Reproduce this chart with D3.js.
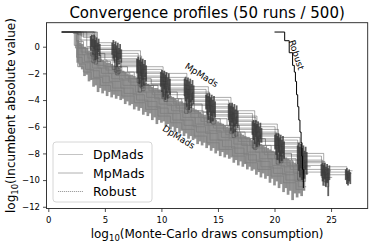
<!DOCTYPE html>
<html>
<head>
<meta charset="utf-8">
<script src="https://cdn.jsdelivr.net/npm/d3@7/dist/d3.min.js"></script>
<style>
  body { margin: 0; background: #fff; }
  text { font-family: "DejaVu Sans", sans-serif; }
</style>
</head>
<body>
<div id="chart"></div>
<script>
// ticks
var xTicks = [0, 5, 10, 15, 20, 25]
var yTicks = [0, -2, -4, -6, -8, -10, -12]

// DpMads runs, [log10 draws, log10 incumbent] step points
var dpRuns = [
  [[1.2,1.1],[2.8,0.5],[3.4,0.0],[4.1,-0.5],[5.0,-1.0],[6.1,-1.5],[7.0,-1.9],[8.2,-2.4],[9.1,-2.8],[10.3,-3.4],[11.4,-3.9],[12.4,-4.3],[13.6,-4.9],[14.7,-5.4],[15.8,-5.9],[16.9,-6.4],[18.1,-6.9],[19.2,-7.4],[20.4,-8.0],[21.5,-8.5],[22.3,-8.8],[22.6,-8.8]],
  [[1.2,1.1],[2.5,0.4],[3.1,-0.1],[3.8,-0.6],[4.6,-1.1],[5.5,-1.5],[6.5,-1.9],[7.6,-2.4],[8.6,-2.9],[9.7,-3.4],[10.8,-3.9],[11.8,-4.3],[12.9,-4.9],[14.1,-5.4],[15.2,-5.9],[16.3,-6.4],[17.4,-6.9],[18.6,-7.4],[19.7,-7.9],[20.8,-8.4],[21.9,-8.9],[22.6,-8.9]],
  [[1.2,1.1],[2.7,-0.1],[3.3,-0.5],[4.0,-1.1],[4.9,-1.5],[5.8,-1.9],[6.8,-2.4],[7.9,-2.9],[8.9,-3.3],[10.0,-3.8],[11.1,-4.3],[12.2,-4.8],[13.3,-5.3],[14.4,-5.8],[15.5,-6.3],[16.6,-6.8],[17.8,-7.4],[18.9,-7.9],[20.0,-8.4],[21.1,-8.9],[22.1,-9.3],[22.7,-9.3]],
  [[1.2,1.1],[2.4,-0.1],[3.0,-0.6],[3.6,-1.1],[4.4,-1.6],[5.3,-2.0],[6.3,-2.5],[7.3,-2.9],[8.4,-3.4],[9.4,-3.9],[10.5,-4.4],[11.6,-4.9],[12.6,-5.3],[13.8,-5.9],[14.9,-6.4],[16.0,-6.9],[17.1,-7.4],[18.3,-7.9],[19.4,-8.4],[20.6,-9.0],[21.7,-9.5],[22.5,-9.5]],
  [[1.2,1.1],[2.6,-0.6],[3.2,-1.1],[3.9,-1.6],[4.7,-2.0],[5.6,-2.4],[6.6,-2.9],[7.7,-3.4],[8.7,-3.8],[9.8,-4.3],[10.9,-4.8],[11.9,-5.3],[13.0,-5.8],[14.2,-6.3],[15.3,-6.8],[16.4,-7.3],[17.6,-7.9],[18.7,-8.4],[19.8,-8.9],[20.9,-9.4],[22.0,-9.9],[22.7,-9.9]],
  [[1.2,1.1],[2.5,-0.8],[3.0,-1.2],[3.7,-1.8],[4.5,-2.2],[5.4,-2.6],[6.4,-3.1],[7.5,-3.6],[8.5,-4.1],[9.6,-4.6],[10.6,-5.0],[11.7,-5.5],[12.8,-6.0],[13.9,-6.5],[15.0,-7.0],[16.2,-7.6],[17.3,-8.1],[18.4,-8.6],[19.6,-9.1],[20.7,-9.6],[21.8,-10.1],[22.6,-10.1]],
  [[1.2,1.1],[2.7,-1.3],[3.3,-1.7],[4.0,-2.3],[4.8,-2.7],[5.7,-3.1],[6.7,-3.5],[7.8,-4.0],[8.8,-4.5],[9.9,-5.0],[11.0,-5.5],[12.0,-5.9],[13.1,-6.4],[14.3,-7.0],[15.4,-7.5],[16.5,-8.0],[17.7,-8.5],[18.8,-9.0],[19.9,-9.5],[21.0,-10.0],[22.1,-10.5],[22.8,-10.5]],
  [[1.2,1.1],[2.9,-0.1],[3.5,-0.55],[4.2,-1.0],[5.2,-1.5],[6.2,-1.95],[7.2,-2.4],[8.3,-2.9],[9.3,-3.4],[10.4,-3.9],[11.5,-4.4],[12.5,-4.8],[13.7,-5.4],[14.8,-5.9],[15.9,-6.4],[17.0,-6.9],[18.2,-7.4],[19.3,-7.9],[20.5,-8.5],[21.6,-9.0],[22.4,-9.0]],
  [[1.2,1.1],[2.6,-1.5],[3.1,-1.9],[3.8,-2.4],[4.6,-2.9],[5.5,-3.3],[6.5,-3.7],[7.6,-4.2],[8.6,-4.7],[9.7,-5.2],[10.8,-5.7],[11.8,-6.2],[12.9,-6.7],[14.0,-7.2],[15.1,-7.7],[16.3,-8.2],[17.4,-8.7],[18.5,-9.2],[19.7,-9.7],[20.8,-10.2],[21.9,-10.7],[22.7,-10.7]],
  [[1.2,1.1],[2.3,0.1],[2.9,-0.4],[3.5,-0.85],[4.3,-1.4],[5.1,-1.75],[6.0,-2.15],[7.1,-2.65],[8.1,-3.1],[9.2,-3.6],[10.2,-4.1],[11.3,-4.6],[12.3,-5.0],[13.5,-5.6],[14.6,-6.1],[15.7,-6.6],[16.8,-7.1],[18.0,-7.6],[19.1,-8.1],[20.3,-8.7],[21.4,-9.2],[22.2,-9.2]]
]

// DpMads band of rapid excursions [x, top, bottom]
var dpSpikes = [
  [2.6,0.5,-1.2],[2.8,0.3,-1.5],[3.0,0.2,-1.7],[3.2,0.0,-2.2],[3.4,-0.1,-2.1],[3.6,-0.3,-2.6],[3.8,-0.4,-2.5],
  [4.0,-0.6,-3.0],[4.2,-0.7,-2.9],[4.4,-0.8,-3.4],[4.6,-0.9,-3.1],[4.8,-1.0,-3.5],[5.0,-1.1,-3.3],[5.2,-1.2,-3.7],
  [5.4,-1.2,-3.4],[5.6,-1.3,-3.8],[5.8,-1.4,-3.6],[6.0,-1.5,-3.9],[6.2,-1.6,-3.7],[6.4,-1.7,-4.0],[6.6,-1.8,-3.9],
  [6.8,-1.9,-4.3],[7.0,-2.0,-4.1],[7.2,-2.1,-4.4],[7.4,-2.1,-4.3],[7.6,-2.2,-4.7],[7.8,-2.3,-4.5],[8.0,-2.4,-4.8],
  [8.2,-2.5,-4.6],[8.4,-2.6,-5.1],[8.6,-2.7,-4.9],[8.8,-2.8,-5.2],[9.0,-2.9,-5.0],[9.2,-3.0,-5.5],[9.4,-3.1,-5.3],
  [9.6,-3.1,-5.8],[9.8,-3.2,-5.5],[10.0,-3.3,-5.7],[10.2,-3.4,-5.6],[10.4,-3.5,-6.0],[10.6,-3.6,-5.8],[10.8,-3.7,-6.2],
  [11.0,-3.8,-6.0],[11.2,-3.9,-6.4],[11.4,-4.0,-6.1],[11.6,-4.1,-6.5],[11.8,-4.1,-6.3],[12.0,-4.2,-6.7],[12.2,-4.3,-6.5],
  [12.4,-4.4,-6.9],[12.6,-4.5,-6.7],[12.8,-4.6,-7.0],[13.0,-4.7,-6.9],[13.2,-4.8,-7.3],[13.4,-4.9,-7.1],[13.6,-5.0,-7.4],
  [13.8,-5.1,-7.2],[14.0,-5.1,-7.6],[14.2,-5.2,-7.4],[14.4,-5.3,-7.8],[14.6,-5.4,-7.6],[14.8,-5.5,-8.0],[15.0,-5.6,-7.8],
  [15.2,-5.7,-8.2],[15.4,-5.8,-7.9],[15.6,-5.9,-8.3],[15.8,-6.0,-8.1],[16.0,-6.1,-8.4],[16.2,-6.1,-8.3],[16.4,-6.2,-8.7],
  [16.6,-6.3,-8.5],[16.8,-6.4,-8.9],[17.0,-6.5,-8.6],[17.2,-6.6,-9.0],[17.4,-6.7,-8.8],[17.6,-6.8,-9.2],[17.8,-6.9,-9.0],
  [18.0,-7.0,-9.3],[18.2,-7.1,-9.2],[18.4,-7.1,-9.6],[18.6,-7.2,-9.4],[18.8,-7.3,-9.8],[19.0,-7.4,-9.5],[19.2,-7.5,-9.9],
  [19.4,-7.6,-9.7],[19.6,-7.7,-10.2],[19.8,-7.8,-9.9],[20.0,-7.9,-10.4],[20.2,-8.0,-10.1],[20.4,-8.1,-10.6],[20.6,-8.1,-10.3],
  [20.8,-8.2,-10.9],[21.0,-8.3,-10.6],[21.2,-8.4,-11.1],[21.4,-8.5,-10.8],[21.6,-8.6,-11.5],[21.8,-8.7,-11.0],[22.0,-8.8,-11.3],
  [22.2,-8.9,-11.0],[22.4,-9.0,-11.2],[22.6,-9.2,-10.8]
]

// MpMads runs
var mpRuns = [
  [[1.2,1.1],[4.15,0.0],[4.45,0.3],[5.95,-0.8],[6.25,-0.3],[8.15,-2.0],[8.45,-1.5],[10.15,-2.6],[10.45,-2.0],[12.25,-3.6],[12.55,-3.0],[14.15,-4.4],[14.45,-3.8],[16.15,-5.4],[16.45,-4.8],[18.25,-6.4],[18.55,-5.8],[20.25,-7.4],[20.55,-6.8],[22.25,-8.6],[22.55,-8.0],[24.35,-9.6],[24.65,-9.0],[26.4,-9.8],[26.6,-9.3],[26.9,-9.3]],
  [[1.2,1.1],[2.6,0.9],[3.85,-0.3],[4.15,0.1],[5.75,-1.0],[6.05,-0.5],[7.95,-2.3],[8.25,-1.7],[10.05,-2.8],[10.35,-2.3],[12.05,-3.8],[12.35,-3.2],[13.95,-4.6],[14.25,-4.0],[15.95,-5.6],[16.25,-5.0],[18.05,-6.6],[18.35,-6.0],[20.05,-7.6],[20.35,-7.0],[22.05,-8.8],[22.35,-8.2],[24.15,-9.8],[24.45,-9.2],[26.3,-9.9],[26.5,-9.5],[26.8,-9.5]],
  [[1.2,1.1],[4.05,-0.6],[4.35,-0.1],[6.05,-1.3],[6.35,-0.7],[8.25,-2.5],[8.55,-2.0],[10.25,-3.0],[10.55,-2.5],[12.35,-4.1],[12.65,-3.5],[14.25,-4.9],[14.55,-4.3],[16.25,-5.9],[16.55,-5.3],[18.35,-6.8],[18.65,-6.2],[20.35,-7.9],[20.65,-7.3],[22.35,-9.1],[22.65,-8.5],[24.25,-9.9],[24.55,-9.3],[25.0,-9.3]],
  [[1.2,1.1],[3.1,0.7],[3.75,-0.7],[4.05,-0.2],[5.85,-1.5],[6.15,-0.9],[7.85,-2.7],[8.15,-2.2],[9.95,-3.3],[10.25,-2.8],[12.15,-4.3],[12.45,-3.7],[14.05,-5.1],[14.35,-4.5],[16.05,-6.1],[16.35,-5.5],[18.15,-7.0],[18.45,-6.4],[20.15,-8.1],[20.45,-7.5],[22.15,-9.3],[22.45,-8.7],[24.35,-10.1],[24.65,-9.5],[24.9,-9.5]],
  [[1.2,1.1],[4.25,-0.9],[4.55,-0.4],[6.15,-1.6],[6.45,-1.0],[8.35,-2.8],[8.65,-2.3],[10.35,-3.4],[10.65,-2.9],[12.45,-4.4],[12.75,-3.8],[14.35,-5.2],[14.65,-4.6],[16.35,-6.2],[16.65,-5.6],[18.45,-7.2],[18.75,-6.6],[20.45,-8.2],[20.75,-7.6],[22.45,-9.5],[22.75,-8.9],[24.45,-10.2],[24.75,-9.6],[26.5,-10.2],[26.6,-9.6],[26.7,-9.6]],
  [[1.2,1.1],[2.2,1.0],[3.95,-1.0],[4.25,-0.5],[5.65,-1.7],[5.95,-1.1],[8.05,-3.0],[8.35,-2.5],[10.15,-3.6],[10.45,-3.1],[12.25,-4.6],[12.55,-4.0],[14.15,-5.4],[14.45,-4.8],[16.15,-6.4],[16.45,-5.8],[18.25,-7.3],[18.55,-6.7],[20.25,-8.4],[20.55,-7.8],[22.25,-9.6],[22.55,-9.0],[23.2,-9.0]],
  [[1.2,1.1],[4.35,-1.1],[4.65,-0.6],[5.85,-1.9],[6.15,-1.3],[8.15,-3.1],[8.45,-2.6],[10.45,-3.8],[10.75,-3.3],[12.15,-4.7],[12.45,-4.1],[14.35,-5.5],[14.65,-4.9],[16.05,-6.5],[16.35,-5.9],[18.35,-7.5],[18.65,-6.9],[20.35,-8.5],[20.65,-7.9],[22.35,-9.8],[22.65,-9.2],[24.25,-10.4],[24.55,-9.8],[25.1,-9.8]],
  [[1.2,1.1],[3.4,0.5],[3.85,-1.2],[4.15,-0.7],[6.05,-2.0],[6.35,-1.4],[8.25,-3.3],[8.55,-2.8],[10.05,-3.9],[10.35,-3.4],[12.35,-4.9],[12.65,-4.3],[14.05,-5.7],[14.35,-5.1],[16.45,-6.7],[16.75,-6.1],[18.05,-7.6],[18.35,-7.0],[20.45,-8.7],[20.75,-8.1],[22.05,-10.0],[22.35,-9.4],[24.5,-10.5],[24.8,-9.9],[24.8,-9.9]],
  [[1.2,1.1],[4.05,-1.3],[4.35,-0.8],[5.95,-2.1],[6.25,-1.5],[7.95,-3.4],[8.25,-2.9],[10.25,-4.1],[10.55,-3.6],[12.05,-5.0],[12.35,-4.4],[14.45,-5.8],[14.75,-5.2],[16.25,-6.8],[16.55,-6.2],[18.15,-7.7],[18.45,-7.1],[20.15,-8.8],[20.45,-8.2],[22.45,-10.1],[22.75,-9.5],[23.0,-9.5]],
  [[1.2,1.1],[2.9,0.8],[4.15,-0.7],[4.45,-0.2],[6.05,-1.8],[6.35,-1.2],[8.35,-2.4],[8.65,-1.9],[10.35,-3.7],[10.65,-3.2],[12.45,-4.0],[12.75,-3.4],[14.25,-5.5],[14.55,-4.9],[16.35,-5.8],[16.65,-5.2],[18.45,-7.1],[18.75,-6.5],[20.35,-7.8],[20.65,-7.2],[22.45,-9.2],[22.75,-8.6],[24.45,-10.0],[24.75,-9.4],[26.45,-10.0],[26.6,-9.8],[26.6,-9.8]]
]

// MpMads oscillations inside each cluster [x, top, bottom]
var mpSpikes = [
  [3.75,0.8,-0.3],[3.85,0.9,0.0],[3.95,0.6,-0.6],[4.05,0.9,-0.2],[4.15,0.5,-1.0],[4.25,0.7,-0.5],[4.35,0.3,-0.9],[4.45,0.6,-0.4],[4.55,0.2,-0.7],
  [5.65,0.3,-0.6],[5.75,0.5,-0.9],[5.85,0.2,-1.2],[5.95,0.4,-0.8],[6.05,0.1,-1.5],[6.15,0.3,-1.0],[6.25,-0.1,-1.3],[6.35,0.2,-0.9],[6.45,-0.2,-1.2],
  [7.85,-0.9,-2.0],[7.95,-0.75,-2.4],[8.05,-1.0,-2.8],[8.15,-0.8,-2.2],[8.25,-1.1,-3.0],[8.35,-0.9,-2.5],[8.45,-1.3,-2.9],[8.55,-1.0,-2.3],[8.65,-1.4,-2.6],
  [9.95,-1.9,-3.0],[10.05,-1.75,-3.4],[10.15,-2.0,-3.8],[10.25,-1.8,-3.2],[10.35,-2.1,-4.0],[10.45,-1.9,-3.5],[10.55,-2.3,-3.9],[10.65,-2.0,-3.3],[10.75,-2.4,-3.6],
  [12.05,-2.4,-3.7],[12.15,-2.25,-4.1],[12.25,-2.5,-4.5],[12.35,-2.3,-3.9],[12.45,-2.6,-4.75],[12.55,-2.4,-4.2],[12.65,-2.8,-4.6],[12.75,-2.5,-4.0],[12.85,-2.9,-4.3],
  [13.95,-3.6,-4.7],[14.05,-3.5,-5.1],[14.15,-3.7,-5.5],[14.25,-3.5,-4.9],[14.35,-3.8,-5.7],[14.45,-3.6,-5.2],[14.55,-4.0,-5.6],[14.65,-3.7,-5.0],[14.75,-4.1,-5.3],
  [15.95,-4.3,-5.5],[16.05,-4.2,-5.9],[16.15,-4.4,-6.3],[16.25,-4.2,-5.7],[16.35,-4.5,-6.5],[16.45,-4.3,-6.0],[16.55,-4.7,-6.4],[16.65,-4.4,-5.8],[16.75,-4.8,-6.1],
  [18.05,-5.6,-6.6],[18.15,-5.5,-7.0],[18.25,-5.7,-7.3],[18.35,-5.5,-6.8],[18.45,-5.8,-7.5],[18.55,-5.6,-7.1],[18.65,-6.0,-7.4],[18.75,-5.7,-6.9],[18.85,-6.1,-7.2],
  [20.05,-6.6,-7.7],[20.15,-6.5,-8.1],[20.25,-6.7,-8.5],[20.35,-6.5,-7.9],[20.45,-6.8,-8.7],[20.55,-6.6,-8.2],[20.65,-7.0,-8.6],[20.75,-6.7,-8.0],[20.85,-7.1,-8.4],
  [22.05,-7.4,-8.8],[22.15,-7.2,-9.3],[22.25,-7.5,-9.8],[22.35,-7.3,-9.1],[22.45,-7.6,-10.0],[22.55,-7.4,-9.5],[22.65,-7.8,-9.9],[22.75,-7.5,-9.2],[22.85,-7.9,-9.6],
  [24.15,-8.8,-9.7],[24.25,-8.7,-10.1],[24.35,-8.9,-10.4],[24.45,-8.7,-9.9],[24.55,-9.0,-10.5],[24.65,-8.8,-10.2],[24.75,-9.1,-11.2],[24.85,-8.9,-10.0],
  [26.3,-9.2,-10.0],[26.4,-9.1,-10.3],[26.5,-9.3,-10.4],[26.6,-9.2,-10.1],[26.7,-9.4,-10.3]
]

// Robust single profile
var robust = [[20.0,1.1],[20.9,0.45],[21.3,-0.45],[21.6,-1.4],[21.75,-1.9],[21.85,-2.6],[21.95,-3.6],[22.05,-4.5],[22.15,-5.5],[22.25,-6.4],[22.35,-7.2],[22.42,-8.2],[22.48,-9.2],[22.55,-10.6]]

var legendNames = ["DpMads", "MpMads", "Robust"]

const width = 374
const height = 246
const margin = {top: 22.7, right: 6.3, bottom: 37.5, left: 46.5}

const svg = d3.select("#chart").append("svg")
  .attr("width", width)
  .attr("height", height)

var x = d3.scaleLinear()
  .domain([-0.16, 28.24])
  .range([margin.left, width - margin.right])

var y = d3.scaleLinear()
  .domain([-12.13, 1.8])
  .range([height - margin.bottom, margin.top])

var line = d3.line()
  .x(function(d) { return x(d[0]) })
  .y(function(d) { return y(d[1]) })
  .curve(d3.curveStepAfter)

var plot = svg.append("g")

function drawSpikes(data, color, opacity, w) {
  plot.append("g")
    .selectAll("line")
    .data(data)
    .enter()
    .append("line")
    .attr("x1", function(d) { return x(d[0]) })
    .attr("x2", function(d) { return x(d[0]) })
    .attr("y1", function(d) { return y(d[1]) })
    .attr("y2", function(d) { return y(d[2]) })
    .attr("stroke", color)
    .attr("stroke-opacity", opacity)
    .attr("stroke-width", w)
}

drawSpikes(dpSpikes, "#858585", 0.9, 2.7)

plot.append("g")
  .selectAll("path")
  .data(dpRuns)
  .enter()
  .append("path")
  .attr("d", line)
  .attr("fill", "none")
  .attr("stroke", "#808080")
  .attr("stroke-opacity", 0.8)
  .attr("stroke-width", 1)

plot.append("g")
  .selectAll("path")
  .data(mpRuns)
  .enter()
  .append("path")
  .attr("d", line)
  .attr("fill", "none")
  .attr("stroke", "#404040")
  .attr("stroke-opacity", 0.55)
  .attr("stroke-width", 0.8)

drawSpikes(mpSpikes, "#383838", 0.8, 1.8)

plot.append("path")
  .datum(robust)
  .attr("d", line)
  .attr("fill", "none")
  .attr("stroke", "#000")
  .attr("stroke-width", 1)

// curve labels
var notes = [
  {text: "MpMads", x: 13.56, y: -2.12, angle: 32},
  {text: "DpMads", x: 11.53, y: -6.77, angle: 32},
  {text: "Robust", x: 21.95, y: -0.62, angle: 72}
]
svg.selectAll(".note")
  .data(notes)
  .enter()
  .append("text")
  .attr("transform", function(d) { return "translate(" + x(d.x) + "," + y(d.y) + ") rotate(" + d.angle + ")" })
  .attr("text-anchor", "middle")
  .attr("dy", "0.35em")
  .style("font-size", "9px")
  .text(function(d) { return d.text })

// frame
svg.append("rect")
  .attr("x", margin.left)
  .attr("y", margin.top)
  .attr("width", width - margin.left - margin.right)
  .attr("height", height - margin.top - margin.bottom)
  .attr("fill", "none")
  .attr("stroke", "#222")
  .attr("stroke-width", 0.9)

var xAxis = svg.append("g")
  .attr("transform", "translate(0," + (height - margin.bottom) + ")")
  .call(d3.axisBottom(x).tickValues(xTicks).tickSize(3.5).tickSizeOuter(0).tickFormat(d3.format("d")))
var yAxis = svg.append("g")
  .attr("transform", "translate(" + margin.left + ",0)")
  .call(d3.axisLeft(y).tickValues(yTicks).tickSize(3.5).tickSizeOuter(0).tickFormat(function(d) { return d < 0 ? "\u2212" + Math.abs(d) : d }))

svg.selectAll(".domain").remove()
svg.selectAll(".tick line").attr("stroke", "#222").attr("stroke-width", 0.8)
svg.selectAll(".tick text").style("font-size", "8.5px").attr("fill", "#000")
  .style("font-family", "DejaVu Sans")
xAxis.selectAll(".tick text").attr("dy", "0.9em")

// title and axis labels
svg.append("text")
  .attr("x", (margin.left + width - margin.right) / 2)
  .attr("y", 18)
  .attr("text-anchor", "middle")
  .style("font-size", "15px")
  .text("Convergence profiles (50 runs / 500)")

var xl = svg.append("text")
  .attr("x", (margin.left + width - margin.right) / 2)
  .attr("y", 238)
  .attr("text-anchor", "middle")
  .style("font-size", "12px")
xl.append("tspan").text("log")
xl.append("tspan").attr("dy", "3").style("font-size", "8.5px").text("10")
xl.append("tspan").attr("dy", "-3").text("(Monte-Carlo draws consumption)")

var yl = svg.append("text")
  .attr("transform", "translate(15," + ((margin.top + height - margin.bottom) / 2) + ") rotate(-90)")
  .attr("text-anchor", "middle")
  .style("font-size", "12px")
yl.append("tspan").text("log")
yl.append("tspan").attr("dy", "3").style("font-size", "8.5px").text("10")
yl.append("tspan").attr("dy", "-3").text("(Incumbent absolute value)")

// legend
var legend = svg.append("g").attr("transform", "translate(53,142)")
legend.append("rect")
  .attr("width", 99)
  .attr("height", 60)
  .attr("rx", 3)
  .attr("fill", "#fff")
  .attr("fill-opacity", 0.8)
  .attr("stroke", "#ccc")
  .attr("stroke-width", 0.8)

var legendStroke = ["#c4c4c4", "#b0b0b0", "#a0a0a0"]
var legendDash = [null, null, "1.2,0.8"]
legendNames.forEach(function(name, i) {
  legend.append("line")
    .attr("x1", 5).attr("x2", 30)
    .attr("y1", 12.5 + i * 18.5).attr("y2", 12.5 + i * 18.5)
    .attr("stroke", legendStroke[i])
    .attr("stroke-dasharray", legendDash[i])
    .attr("stroke-width", 1)
  legend.append("text")
    .attr("x", 40)
    .attr("y", 12.5 + i * 18.5)
    .attr("dy", "0.36em")
    .style("font-size", "12.5px")
    .text(name)
})
</script>
</body>
</html>
